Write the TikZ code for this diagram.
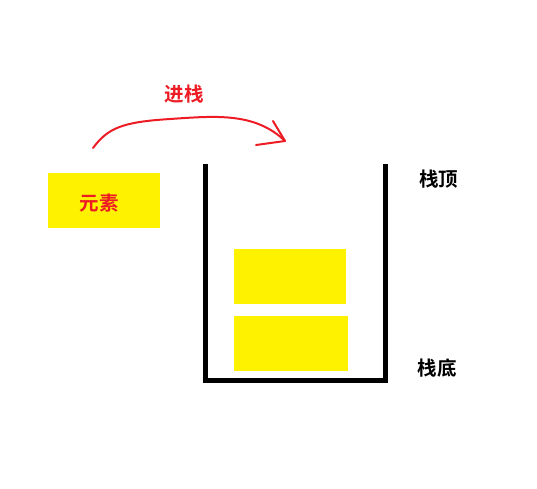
\documentclass[tikz,border=0pt]{standalone}
\usepackage{fontspec}
\newfontfamily\cjk{Noto Sans CJK SC}[BoldFont={Noto Sans CJK SC Bold}]
\definecolor{boxyellow}{RGB}{255,242,0}
\definecolor{penred}{RGB}{237,28,36}
\begin{document}
\begin{tikzpicture}[x=1pt,y=-1pt,
  ybox/.style={fill=boxyellow,draw=none,inner sep=0pt,anchor=north west},
  lbl/.style={font=\cjk\bfseries\fontsize{19.5}{22}\selectfont,inner sep=0pt},
  wall/.style={line width=4.5pt,draw=black,line cap=butt,line join=miter},
  pen/.style={draw=penred,line width=2pt,line cap=round,line join=round}]
\useasboundingbox (0,0) rectangle (537,488);
% element to push
\node[ybox,minimum width=112pt,minimum height=55pt] (elem) at (48,173) {};
\node[lbl,text=penred] (elemtxt) at (99,203) {元素};
% stack container
\coordinate (tl) at (205.5,164);
\coordinate (bl) at (205.5,380.5);
\coordinate (br) at (385.5,380.5);
\coordinate (tr) at (385.5,164);
\draw[wall] (tl) -- (bl) -- (br) -- (tr);
% stacked elements
\node[ybox,minimum width=112pt,minimum height=55pt] (s2) at (234,249) {};
\node[ybox,minimum width=114pt,minimum height=55pt] (s1) at (234,316) {};
% labels
\node[lbl] (top) at (438.5,179) {栈顶};
\node[lbl] (bottom) at (437,368) {栈底};
% push arrow
\coordinate (a0) at (93,148);
\coordinate (a1) at (285,141);
\coordinate (h1) at (256,145);
\coordinate (h2) at (273,121);
\draw[pen] (a0) .. controls (108,128) and (122,122) .. (170,119)
  .. controls (215,116) and (255,112) .. (a1);
\draw[pen] (h1) -- (a1) -- (h2);
\node[lbl,text=penred] (push) at (184,94) {进栈};
\end{tikzpicture}
\end{document}
